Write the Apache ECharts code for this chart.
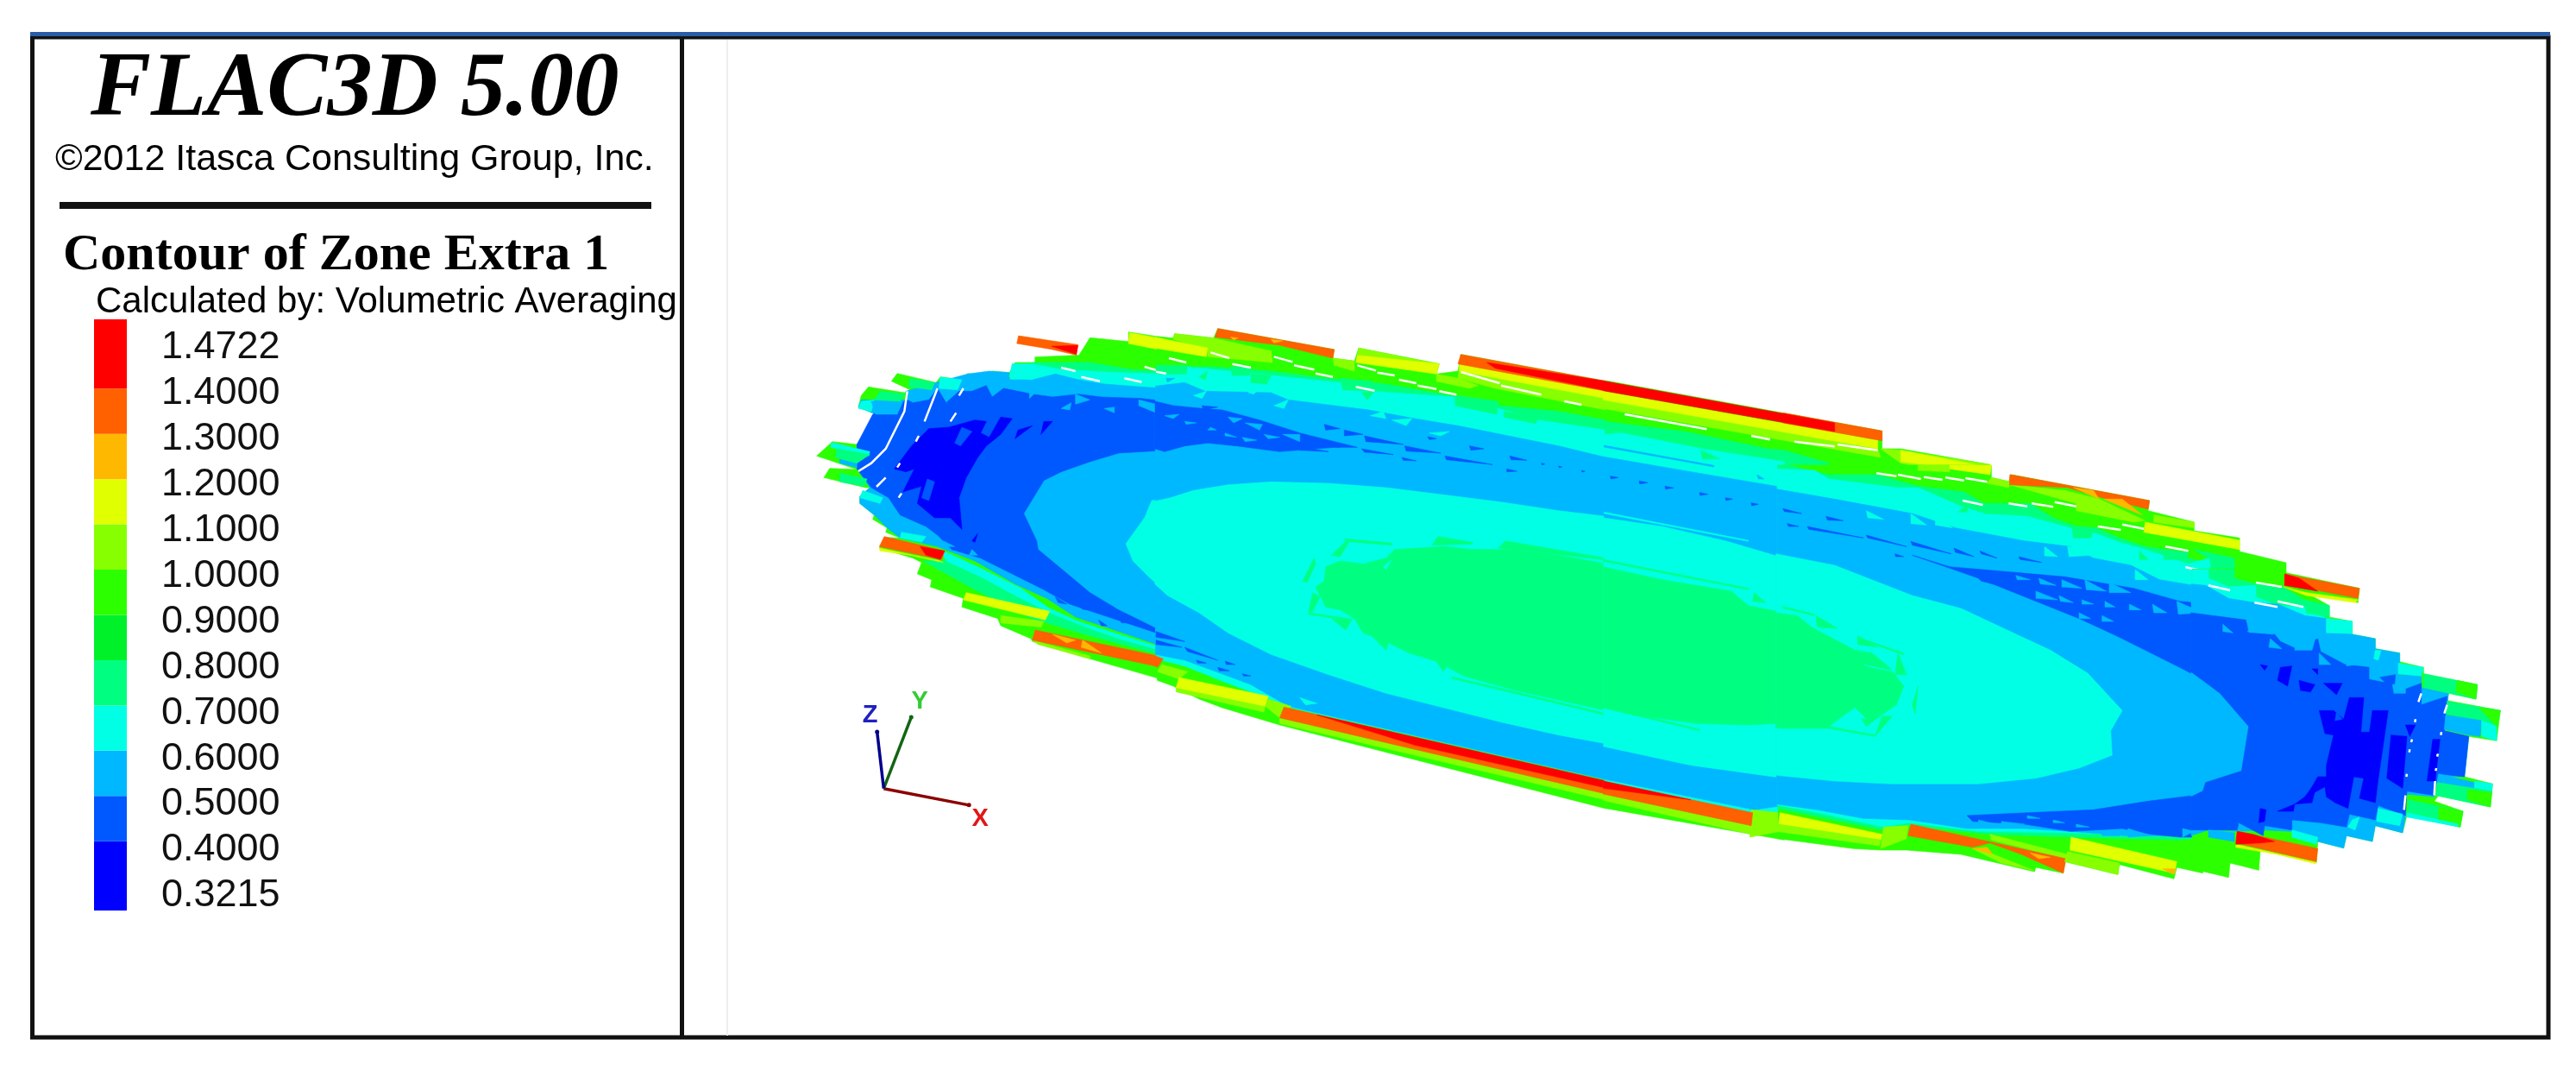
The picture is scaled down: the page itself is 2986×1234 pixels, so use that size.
<!DOCTYPE html>
<html><head><meta charset="utf-8">
<style>html,body{margin:0;padding:0;background:#fff}#c{width:2986px;height:1234px}</style>
<script src="https://cdn.jsdelivr.net/npm/echarts@6/dist/echarts.min.js"></script>
</head><body><div id="c"></div>
<script>
// ---- legend ----
const tickLabels = ['1.4722','1.4000','1.3000','1.2000','1.1000','1.0000','0.9000','0.8000','0.7000','0.6000','0.5000','0.4000','0.3215'];
const bandEdges = [0.3215,0.4,0.5,0.6,0.7,0.8,0.9,1.0,1.1,1.2,1.3,1.4,1.4722];
const legendSlots = [1.53,1,1,1,1,1,1,1,1,1,1,1.53];
// ---- contour, upper-left rim ----
const rimOutline = [[470,165],[550,160],[570,115],[640,125],[640,100],[720,118],[725,105],[730,200],[470,200]];
const rimStrips = [
 [1.35,[[440,110],[548,133],[545,160],[500,145],[437,130]]],
 [1.45,[[500,137],[548,135],[545,158]]],
 [1.15,[[642,102],[710,120],[710,150],[640,130]]]
];
// ---- contour, left end ----
const endLOutline = [[740,0],[1262,0],[1262,1105],[1000,1030],[800,970],[795,960],[690,915],[680,890],[555,850],[560,820],[445,780],[450,755],[400,735],[415,695],[385,680],[268,645],[290,608],[340,610],[290,590],[295,575],[245,545],[250,530],[200,490],[200,465],[235,435],[220,435],[75,400],[95,368],[190,372],[50,325],[105,275],[190,285],[255,180],[195,155],[205,115],[230,85],[355,105],[375,95],[310,65],[330,38],[465,70],[480,50],[555,60],[575,38],[640,50],[660,30],[720,35]];
const endL075a = [[800,0],[1000,0],[1150,25],[1262,30],[1262,60],[900,30],[800,30]];
const endL075b = [[420,690],[500,690],[620,745],[740,810],[860,870],[1000,925],[1100,960],[1262,1005],[1262,1020],[1000,950],[800,890],[600,790]];
const endL065a = [[730,5],[800,5],[900,25],[1100,35],[1262,40],[1262,150],[720,100]];
const endL065b = [[480,650],[620,715],[760,785],[860,855],[960,900],[1100,945],[1262,995],[1262,1005],[1100,960],[1000,925],[860,870],[740,810],[620,745],[500,690]];
const endL055 = [[360,100],[465,70],[575,40],[650,30],[720,35],[720,60],[800,60],[880,40],[960,60],[1050,75],[1120,80],[1180,85],[1262,90],[1262,990],[1100,935],[950,885],[850,820],[740,770],[600,690],[470,640],[340,610],[295,575],[250,530],[200,490],[200,465],[235,435],[190,370],[190,285],[255,180],[195,155],[205,130],[360,130]];
const endL045 = [[190,370],[190,285],[245,180],[330,145],[365,130],[385,140],[440,130],[470,90],[500,140],[545,100],[590,100],[640,80],[660,120],[700,90],[750,100],[800,110],[870,120],[960,110],[1040,120],[1180,125],[1262,135],[1262,305],[1100,315],[1000,345],[900,380],[840,410],[770,525],[815,620],[820,650],[880,700],[1000,800],[1100,860],[1262,940],[1262,950],[1050,880],[930,840],[840,790],[700,720],[620,680],[520,650],[470,600],[430,570],[340,530],[300,470],[240,435]];
const endLInner065 = [[1262,475],[1215,480],[1190,540],[1125,630],[1150,690],[1210,750],[1262,795]];
const endL035 = [[[510,225],[600,200],[640,205],[620,245],[650,260],[690,190],[730,195],[690,250],[640,290],[610,330],[570,400],[545,470],[555,580],[515,540],[460,540],[400,490],[415,430],[350,450],[390,370],[360,380],[320,370],[380,290],[440,230]],[[750,235],[800,220],[740,265]],[[840,205],[870,205],[830,250]],[[590,620],[610,595],[600,625]]];
const endL045b = [[[530,280],[555,225],[590,240],[550,290]],[[415,470],[435,405],[460,415],[440,480]]];
const endLBlocks = [
 [0.65,[[480,50],[555,60],[540,95],[475,90]]],
 [0.65,[[205,135],[250,130],[240,170],[195,160]]],
 [0.55,[[240,135],[350,135],[330,180],[255,180]]],
 [0.65,[[100,278],[235,310],[230,325],[100,295]]],
 [0.55,[[130,335],[190,350],[190,365],[130,350]]],
 [0.65,[[210,445],[280,470],[270,490],[200,470]]],
 [0.65,[[345,590],[430,605],[415,625],[340,610]]],
 [0.65,[[730,5],[800,5],[800,60],[720,50]]],
 [0.75,[[375,55],[460,70],[450,95],[370,85]]],
 [0.75,[[270,100],[355,110],[340,135],[250,130]]],
 [0.75,[[120,300],[235,320],[190,350],[115,330]]],
 [0.75,[[130,385],[225,405],[215,430],[130,415]]],
 [0.55,[[790,100],[820,95],[790,125]]],[0.55,[[900,160],[935,140],[930,165]]],[0.55,[[950,110],[1000,130],[950,145]]],
 [0.55,[[1050,160],[1085,155],[1085,175]]],[0.55,[[590,650],[610,670],[580,670]]],[0.55,[[490,620],[530,640],[500,640]]],
 [0.55,[[1170,130],[1230,145],[1230,175],[1170,150]]],
 [0.45,[[880,815],[920,840],[890,835]]],[0.45,[[1030,895],[1060,915],[1040,915]]],[0.45,[[1100,885],[1140,905],[1110,905]]],[0.45,[[960,845],[1000,860],[975,858]]]
];
const endLStrips = [
 [1.15,[[268,645],[480,690],[490,695],[375,670],[270,655]]],
 [1.35,[[285,605],[495,655],[485,685],[268,640]]],
 [1.45,[[410,640],[495,655],[480,685],[430,670]]],
 [1.05,[[690,880],[840,900],[830,920],[690,905]]],
 [1.15,[[570,800],[860,865],[845,895],[560,825]]],
 [1.05,[[800,965],[1000,1020],[1000,1030],[820,980]]],
 [1.35,[[810,930],[1260,1025],[1250,1060],[800,965]]],
 [1.25,[[870,945],[950,965],[920,975]]],
 [1.25,[[975,965],[1040,1010],[970,990]]]
];
const endLSlits = [[[365,100],[355,170],[290,300],[240,350],[195,378]],[[470,90],[425,205]],[[405,255],[395,275]],[[340,350],[330,365]],[[290,400],[258,432]],[[560,90],[545,115]],[[535,175],[515,205]],[[345,455],[335,470]],[[900,18],[950,30]],[[970,50],[1035,65]],[[1120,55],[1180,68]],[[1190,15],[1260,35]]];
// ---- contour, centre-left ----
const midAOutline = [[4,60],[60,65],[65,50],[200,65],[215,32],[620,105],[615,135],[690,145],[705,100],[985,155],[975,190],[1050,180],[1060,122],[1565,215],[1565,1701],[430,1410],[230,1350],[150,1320],[60,1275],[4,1255]];
const midA075 = [[2,165],[200,165],[400,180],[600,205],[800,225],[1000,260],[1200,300],[1400,320],[1565,350],[1565,1600],[470,1350],[400,1320],[250,1265],[100,1205],[2,1180]];
const midA065 = [[0,185],[110,165],[400,195],[640,220],[750,250],[1040,270],[1190,310],[1330,350],[1565,385],[1565,1600],[470,1350],[330,1295],[250,1265],[100,1205],[0,1180]];
const midA055 = [[-2,232],[100,220],[170,250],[400,255],[460,280],[740,315],[900,345],[1050,370],[1200,400],[1400,440],[1565,480],[1565,1600],[460,1345],[330,1270],[250,1240],[100,1185],[-2,1165]];
const midA045 = [[-3,285],[60,300],[160,310],[230,315],[360,350],[500,395],[640,430],[700,445],[620,445],[430,460],[280,440],[180,430],[100,440],[30,460],[-3,450]];
const midAInner065 = [[-4,632],[50,620],[130,595],[250,575],[400,565],[600,570],[800,585],[1000,610],[1200,635],[1400,665],[1565,685],[1565,1475],[1400,1445],[1200,1400],[1000,1350],[800,1300],[600,1235],[400,1165],[250,1090],[150,1020],[40,960],[-4,920]];
const midACentre075 = [[1565,850],[1400,820],[1240,800],[1100,800],[1000,790],[830,800],[800,830],[720,850],[640,840],[590,860],[585,910],[555,930],[570,960],[590,1000],[640,1010],[690,1040],[720,1090],[800,1120],[880,1160],[980,1190],[1070,1240],[1250,1290],[1565,1360]];
const midAChips = [
 [0.75,[[0,160],[110,160],[105,190],[0,190]]],[0.75,[[260,165],[330,165],[325,195],[265,195]]],[0.75,[[330,190],[400,195],[385,225],[330,220]]],
 [0.75,[[640,205],[750,215],[760,250],[650,245]]],[0.75,[[1040,265],[1190,285],[1185,330],[1040,300]]],[0.75,[[1210,320],[1330,340],[1320,362],[1210,340]]],
 [0.75,[[150,200],[180,180],[170,210]]],[0.75,[[715,255],[760,250],[735,280]]],[0.55,[[35,205],[65,205],[40,218]]],
 [0.65,[[410,300],[460,280],[445,310]]],[0.65,[[130,265],[175,250],[160,275]]],[0.65,[[320,255],[360,240],[340,260]]],
 [0.65,[[745,335],[790,320],[800,345]]],[0.65,[[820,350],[890,345],[870,370]]],[0.65,[[950,395],[1020,390],[990,405]]],
 [0.55,[[30,335],[80,330],[60,345]]],[0.55,[[100,355],[140,360],[105,365]]],[0.55,[[190,375],[210,385],[180,385]]],[0.55,[[240,395],[280,410],[240,405]]],
 [0.55,[[250,340],[300,345],[270,360]]],[0.55,[[310,360],[370,365],[360,385]]],[0.55,[[300,410],[350,420],[310,425]]],[0.55,[[375,400],[430,410],[390,415]]],[0.55,[[440,400],[500,400],[500,425]]],
 [0.45,[[585,365],[640,380],[590,385]]],[0.45,[[655,385],[720,400],[655,405]]],[0.45,[[725,405],[860,435],[730,425]]],[0.45,[[715,450],[825,470],[725,462]]],
 [0.45,[[865,440],[990,465],[870,458]]],[0.45,[[1005,475],[1170,505],[1010,488]]],[0.45,[[1090,440],[1140,450],[1095,455]]],[0.45,[[1230,475],[1290,490],[1235,488]]],
 [0.45,[[1220,520],[1255,528],[1220,530]]],[0.45,[[855,480],[905,492],[860,490]]],[0.45,[[160,300],[215,305],[165,315]]],[0.45,[[510,400],[640,445],[560,440]]],
 [0.45,[[490,440],[600,460],[500,455]]],[0.45,[[945,408],[975,415],[950,418]]],[0.45,[[1340,500],[1352,503],[1342,506]]],[0.45,[[1400,510],[1412,513],[1402,516]]],[0.45,[[1480,525],[1492,528],[1482,531]]],
 [0.45,[[0,1085],[100,1120],[0,1105]]],[0.45,[[0,1115],[90,1140],[0,1130]]],[0.45,[[100,1140],[215,1185],[110,1155]]],[0.45,[[140,1185],[175,1195],[145,1195]]],
 [0.45,[[240,1188],[275,1200],[245,1200]]],[0.45,[[215,1210],[255,1222],[220,1222]]],[0.45,[[300,1232],[330,1240],[305,1240]]],
 [0.65,[[500,1315],[560,1335],[520,1340]]],
 [0.75,[[510,910],[550,830],[555,850],[525,915]]],[0.75,[[545,950],[570,965],[545,1015],[530,1020]]],[0.75,[[610,1040],[680,1045],[660,1080]]],
 [0.75,[[750,1100],[810,1120],[800,1150]]],[0.75,[[975,1190],[1015,1195],[1000,1225]]],[0.75,[[655,763],[820,778],[820,785],[660,772]]],[0.75,[[660,772],[670,775],[640,825],[610,820]]],
 [0.75,[[980,755],[1100,775],[1100,781],[960,785]]],[0.75,[[1215,770],[1565,830],[1565,836],[1190,795]]],[0.75,[[530,1020],[680,1042],[680,1048],[530,1025]]],[0.75,[[1030,1243],[1565,1370],[1565,1376],[1030,1249]]],
 [0.65,[[790,860],[820,835],[800,870]]],[0.65,[[700,800],[730,850],[690,840]]]
];
const midAStrips = [
 [1.05,[[65,50],[200,65],[400,110],[400,150],[180,105],[60,70]]],
 [1.15,[[-3,62],[180,100],[175,130],[-3,100]]],
 [1.05,[[180,105],[400,110],[405,150],[180,130]]],
 [1.35,[[215,32],[620,105],[615,135],[430,90],[205,62]]],
 [1.25,[[260,62],[285,65],[270,72]]],[1.25,[[400,70],[440,75],[410,82]]],
 [1.05,[[615,135],[690,145],[690,180],[620,160]]],
 [1.05,[[705,100],[985,155],[975,170],[700,125]]],
 [1.15,[[700,125],[985,155],[975,190],[695,150]]],
 [1.05,[[975,190],[1050,205],[1120,230],[1090,240],[975,215]]],
 [1.05,[[1055,170],[1565,268],[1565,315],[1180,240],[1050,205]]],
 [1.15,[[1055,155],[1565,240],[1565,275],[1055,180]]],
 [1.35,[[1060,122],[1565,215],[1565,250],[1050,155]]],
 [1.45,[[1150,150],[1565,215],[1565,248],[1180,170]]],
 [1.35,[[-3,1170],[25,1180],[5,1210],[-3,1205]]],
 [1.05,[[20,1200],[110,1225],[80,1250],[5,1225]]],
 [1.05,[[70,1280],[380,1345],[375,1365],[70,1295]]],
 [1.15,[[80,1245],[390,1310],[380,1345],[70,1280]]],
 [1.05,[[390,1320],[470,1345],[430,1385],[380,1345]]],
 [1.05,[[430,1385],[1565,1650],[1565,1671],[430,1405]]],
 [1.35,[[445,1348],[1565,1605],[1565,1650],[430,1385]]],
 [1.45,[[560,1375],[1565,1605],[1565,1629],[900,1480]]]
];
const midASlits = [[[45,135],[105,150]],[[190,115],[255,135]],[[265,155],[330,168]],[[0,182],[35,188]],[[410,130],[475,148]],[[480,160],[550,175]],[[555,188],[615,200]],[[695,235],[760,248]],[[700,160],[765,178]],[[770,185],[830,195]],[[845,210],[905,222]],[[910,230],[975,242]],[[985,250],[1045,262]],[[1060,183],[1195,222]],[[1200,230],[1340,262]],[[1420,285],[1480,297]]];
// ---- contour, centre ----
const midBOutline = [[4,3],[965,178],[965,240],[1030,240],[1340,295],[1340,345],[1410,355],[1410,330],[1565,362],[1565,420],[625,420],[625,1600],[4,1490]];
const midB075 = [[2,145],[280,180],[570,240],[625,245],[780,290],[780,305],[625,305],[625,1530],[2,1395]];
const midB065 = [[0,190],[60,185],[340,240],[625,285],[625,1530],[0,1395]];
const midB055 = [[-2,268],[300,320],[625,375],[625,1480],[520,1495],[-2,1388]];
const midBInner065 = [[-4,480],[200,510],[420,560],[625,620],[625,1385],[300,1340],[-4,1275]];
const midBCentre075 = [[-5,650],[200,695],[440,735],[500,785],[625,810],[625,1210],[600,1195],[500,1200],[320,1195],[100,1165],[-5,1140]];
const midBChips = [
 [0.75,[[335,245],[400,275],[340,275]]],[0.55,[[530,330],[555,345],[535,345]]],
 [0.55,[[-2,228],[380,298],[380,303],[-2,234]]],
 [0.65,[[-2,460],[500,558],[500,562],[-2,465]]],
 [0.75,[[-5,625],[500,725],[500,730],[-5,631]]],[0.75,[[-5,1135],[330,1215],[330,1220],[-5,1140]]],
 [0.75,[[520,740],[560,775],[515,770]]],
 [0.45,[[620,450],[685,465],[630,458]]],[0.45,[[620,495],[672,510],[625,505]]],
 [0.45,[[20,335],[48,340],[22,345]]],[0.45,[[120,352],[150,358],[122,362]]],[0.45,[[210,370],[240,376],[212,380]]],[0.45,[[330,392],[360,398],[332,402]]],[0.45,[[420,410],[445,415],[422,420]]],[0.45,[[510,428],[535,433],[512,438]]]
];
const midBStrips = [
 [1.05,[[-5,70],[950,240],[960,270],[-5,100]]],
 [1.15,[[-5,40],[950,210],[950,240],[-5,70]]],
 [1.35,[[620,115],[965,178],[965,212],[620,150]]],
 [1.45,[[-5,4],[800,150],[800,180],[-5,38]]],
 [1.05,[[960,240],[1030,245],[1340,295],[1340,345],[1270,340],[1030,290]]],
 [1.15,[[1030,245],[1340,305],[1335,325],[1030,285]]],
 [1.05,[[1410,370],[1565,395],[1565,420],[1400,395]]],
 [1.35,[[1410,330],[1565,362],[1565,390],[1405,365]]],
 [1.05,[[510,1495],[610,1505],[610,1570],[505,1590]]],
 [1.15,[[610,1505],[625,1510],[625,1570],[610,1565]]],
 [1.05,[[-5,1440],[510,1550],[510,1580],[-5,1462]]],
 [1.35,[[-5,1395],[515,1505],[510,1550],[-5,1440]]],
 [1.45,[[-5,1395],[300,1460],[-5,1420]]]
];
const midBSlits = [[[70,120],[355,172]],[[510,195],[575,208]],[[660,215],[800,232]],[[810,225],[950,245]],[[945,322],[1020,335]]];
// ---- contour, centre-right ----
const midCOutline = [[4,-3],[745,-3],[745,40],[810,55],[815,30],[1295,120],[1290,155],[1450,195],[1450,225],[1608,250],[1608,297],[1770,336],[1770,375],[1502,375],[1502,1320],[1480,1415],[1390,1395],[1380,1435],[1190,1385],[1185,1420],[1000,1375],[995,1415],[900,1395],[895,1410],[640,1350],[450,1335],[360,1335],[265,1330],[4,1295]];
const midC075 = [[2,-3],[40,-3],[180,30],[350,30],[420,50],[490,70],[650,90],[720,130],[880,130],[960,180],[1040,210],[1110,215],[1190,250],[1280,280],[1345,290],[1430,320],[1502,340],[1502,1290],[1400,1300],[1020,1290],[740,1280],[450,1250],[365,1265],[2,1190]];
const midC065 = [[0,10],[130,15],[180,45],[420,75],[490,75],[640,140],[720,165],[870,175],[1020,215],[1110,235],[1190,265],[1280,290],[1430,340],[1502,370],[1502,1288],[1210,1280],[1020,1275],[700,1270],[460,1240],[370,1255],[300,1240],[140,1205],[0,1178]];
const midC055 = [[-2,80],[200,115],[470,165],[620,215],[860,260],[1020,280],[1100,320],[1230,345],[1330,395],[1480,420],[1502,425],[1502,1285],[1400,1285],[1210,1285],[1020,1270],[860,1260],[660,1260],[460,1230],[300,1225],[140,1195],[-2,1175]];
const midC045a = [[470,310],[600,350],[830,370],[1000,385],[1240,425],[1400,470],[1502,480],[1502,755],[1420,710],[1280,640],[1180,590],[1050,530],[900,470],[700,390],[600,355]];
const midC045b = [[1502,1120],[1470,1130],[1450,1145],[1290,1165],[1100,1195],[870,1205],[660,1215],[680,1235],[860,1245],[1020,1270],[1200,1260],[1300,1280],[1400,1290],[1502,1290]];
const midCInner065 = [[-4,305],[200,345],[470,450],[640,495],[800,570],[950,640],[1080,720],[1200,850],[1160,920],[1165,1005],[1050,1050],[900,1085],[700,1105],[400,1105],[200,1095],[-4,1075]];
const midCCentre075 = [[-5,510],[70,520],[120,560],[270,640],[330,650],[390,700],[440,765],[415,830],[370,860],[310,905],[270,840],[240,860],[180,905],[120,910],[-5,910]];
const midCChips = [
 [0.75,[[1450,290],[1590,320],[1590,375],[1500,375],[1500,320]]],
 [0.65,[[1430,340],[1502,320],[1510,375],[1430,375]]],
 [0.55,[[830,380],[880,395],[835,395]]],[0.55,[[910,390],[970,415],[915,410]]],[0.55,[[990,395],[1060,425],[990,420]]],[0.55,[[1070,395],[1145,435],[1075,430]]],[0.55,[[1155,405],[1230,440],[1155,440]]],
 [0.55,[[900,435],[975,465],[900,460]]],[0.55,[[980,450],[1030,475],[985,470]]],[0.55,[[1060,465],[1100,480],[1060,480]]],[0.55,[[1140,470],[1175,490],[1140,490]]],[0.55,[[1225,480],[1265,500],[1225,500]]],
 [0.55,[[1305,480],[1355,510],[1310,510]]],[0.55,[[1390,470],[1480,510],[1395,515]]],[0.55,[[1050,510],[1090,530],[1050,530]]],[0.55,[[1130,520],[1170,540],[1130,540]]],
 [0.55,[[700,1230],[760,1245],[700,1245]]],[0.55,[[780,1235],[860,1245],[780,1250]]],[0.55,[[870,1215],[915,1225],[870,1225]]],[0.55,[[960,1230],[1000,1240],[960,1240]]],[0.55,[[1040,1245],[1085,1255],[1040,1255]]],
 [0.55,[[1220,1260],[1300,1285],[1220,1290]]],[0.55,[[1130,1270],[1190,1285],[1130,1285]]],[0.55,[[1410,1260],[1450,1270],[1410,1290]]],
 [0.45,[[20,148],[85,165],[25,158]]],[0.45,[[170,175],[230,190],[175,188]]],[0.45,[[35,200],[75,210],[40,210]]],[0.45,[[105,210],[300,250],[110,220]]],[0.45,[[310,240],[450,280],[315,250]]],
 [0.45,[[465,262],[605,305],[470,275]]],[0.45,[[615,285],[685,315],[620,300]]],[0.45,[[705,295],[765,320],[710,305]]],[0.45,[[840,315],[920,335],[845,325]]],[0.45,[[700,390],[810,425],[710,400]]],[0.45,[[410,305],[440,315],[412,315]]],
 [0.65,[[310,155],[370,185],[315,180]]],[0.65,[[465,165],[520,205],[465,200]]],[0.65,[[550,172],[610,215],[550,205]]],[0.65,[[930,280],[975,315],[930,312]]],[0.65,[[1010,280],[1050,285],[1095,310],[1015,315]]],[0.65,[[1245,360],[1290,395],[1245,395]]],[0.65,[[1390,365],[1420,385],[1390,385]]],
 [0.75,[[1025,210],[1105,215],[1090,250],[1030,250]]],[0.75,[[1345,290],[1430,300],[1425,325],[1345,325]]],[0.75,[[630,160],[665,130],[660,160]]],[0.75,[[720,130],[880,135],[880,170],[720,165]]],[0.75,[[1260,295],[1290,325],[1260,325]]],
 [0.75,[[135,520],[210,565],[140,560]]],[0.75,[[280,590],[350,630],[280,620]]],[0.75,[[420,650],[450,725],[410,725]]],[0.75,[[490,765],[470,830],[480,860]]],[0.75,[[400,870],[340,940],[365,870]]],
 [0.75,[[20,488],[130,515],[130,520],[20,494]]],[0.75,[[280,595],[440,650],[440,656],[280,600]]],[0.75,[[10,905],[180,905],[340,935],[340,940],[180,912],[10,912]]],
 [0.65,[[300,690],[390,710],[405,715],[330,700]]],[0.65,[[270,840],[310,880],[270,870]]]
];
const midCStrips = [
 [1.05,[[490,-3],[600,-3],[600,20],[490,15]]],
 [1.15,[[600,-3],[745,-3],[740,30],[600,10]]],
 [1.05,[[745,40],[810,55],[805,75],[730,60]]],
 [1.05,[[808,65],[1000,85],[1120,115],[1280,190],[1240,195],[1040,155],[1040,130]]],
 [1.35,[[812,30],[1295,120],[1290,150],[1130,110],[1010,75],[808,65]]],
 [1.25,[[1030,75],[1100,85],[1120,115]]],[1.25,[[1135,115],[1200,115],[1270,170]]],
 [1.05,[[1310,170],[1450,195],[1450,215],[1310,195]]],
 [1.15,[[1280,195],[1608,258],[1608,290],[1275,230]]],
 [1.15,[[10,1205],[365,1280],[360,1300],[5,1245]]],
 [1.05,[[5,1245],[360,1300],[355,1320],[-3,1270]]],
 [1.05,[[370,1255],[455,1250],[450,1295],[360,1330]]],
 [1.05,[[740,1280],[1010,1350],[1005,1365],[745,1300]]],
 [1.05,[[680,1330],[740,1345],[890,1405],[780,1380]]],
 [1.35,[[465,1245],[1005,1365],[995,1415],[850,1350],[740,1310],[680,1325],[455,1285]]],
 [1.25,[[680,1330],[730,1325],[750,1350]]],[1.25,[[880,1345],[950,1360],[910,1365]]],
 [1.05,[[1010,1340],[1190,1380],[1185,1420],[1000,1375]]],
 [1.15,[[1022,1290],[1390,1375],[1382,1415],[1018,1335]]],
 [1.25,[[1340,1400],[1385,1400],[1380,1420]]]
];
const midCSlits = [[[345,25],[415,35]],[[420,30],[500,45]],[[510,38],[575,48]],[[585,40],[650,50]],[[655,42],[730,55]],[[645,120],[715,135]],[[805,130],[870,140]],[[885,130],[960,142]],[[965,125],[1040,140]],[[1115,210],[1195,222]],[[1200,203],[1275,218]],[[1350,280],[1430,295]],[[1420,352],[1500,368]]];
// ---- contour, right end ----
const endROutline = [[3,-2],[325,-2],[325,10],[585,65],[580,115],[400,80],[480,125],[480,165],[560,180],[560,225],[640,240],[640,275],[725,290],[725,320],[808,340],[808,362],[995,400],[990,450],[895,430],[890,455],[1075,490],[1062,595],[965,580],[950,720],[1048,745],[1040,825],[860,785],[845,805],[945,840],[935,895],[750,855],[735,915],[640,890],[630,945],[540,925],[530,968],[440,945],[435,1020],[240,975],[235,1045],[135,1020],[130,1070],[3,1040]];
const endR075 = [[60,0],[150,0],[150,30],[225,50],[320,60],[400,110],[480,125],[480,165],[400,160],[300,120],[2,60],[2,0]];
const endR065 = [[1,0],[60,0],[60,30],[130,60],[225,55],[225,95],[300,125],[395,130],[470,170],[560,180],[560,225],[480,220],[300,190],[1,120]];
const endR055 = [[0,50],[50,55],[130,100],[220,115],[300,120],[395,160],[470,170],[470,220],[560,225],[640,240],[640,275],[725,290],[725,320],[720,365],[800,365],[800,410],[895,430],[880,560],[965,580],[950,720],[850,720],[845,790],[745,780],[745,860],[735,915],[640,890],[630,945],[540,925],[530,968],[440,945],[440,930],[350,910],[250,905],[160,910],[60,905],[0,925]];
const endR045 = [[-1,150],[190,175],[200,220],[290,225],[310,250],[365,275],[440,240],[450,285],[535,330],[620,340],[625,380],[710,365],[705,430],[800,395],[800,470],[890,440],[880,560],[965,580],[950,720],[860,710],[845,785],[750,770],[745,855],[650,820],[640,870],[550,850],[540,895],[450,880],[350,870],[350,905],[255,890],[250,925],[165,880],[160,905],[60,905],[-1,905],[-1,790],[40,770],[50,740],[175,700],[200,545],[100,430],[60,400],[-1,355]];
const endR035 = [[[455,490],[495,490],[530,520],[550,445],[600,445],[590,565],[620,565],[630,490],[685,490],[650,730],[640,810],[585,795],[600,725],[565,720],[545,830],[500,810],[470,790],[465,755],[400,790],[440,720],[470,720],[470,680],[495,575],[465,570],[445,490]],[[695,575],[750,580],[735,760],[680,725]],[[745,540],[780,540],[760,580]],[[840,590],[865,590],[848,735],[820,735]],[[300,840],[360,815],[355,840]],[[240,830],[260,835],[255,875],[235,880]],[[360,815],[420,810],[440,730],[395,790]],[[310,340],[350,335],[335,405],[300,385]],[[375,385],[430,400],[415,425],[380,420]],[[460,395],[525,395],[505,435]],[[240,330],[265,335],[255,350]],[[420,345],[440,345],[440,365]]];
const endRBlocks = [
 [0.45,[[505,495],[525,520],[500,525]]],
 [0.55,[[110,190],[145,220],[110,215]]],[0.55,[[195,215],[235,185],[285,225]]],[0.55,[[275,240],[315,275],[270,270]]],
 [0.55,[[365,240],[430,245],[420,280],[360,280]]],[0.55,[[445,290],[485,330],[445,330]]],[0.55,[[540,290],[600,300],[630,320],[540,335]]],
 [0.55,[[620,340],[670,390],[620,380]]],[0.55,[[700,400],[745,395],[745,430],[705,430]]],
 [0.65,[[470,170],[560,180],[555,220],[470,220]]],
 [0.65,[[720,325],[808,340],[800,370],[720,362]]],
 [0.65,[[640,280],[660,282],[650,315],[635,310]]],
 [0.65,[[650,830],[735,850],[725,890],[645,875]]],
 [0.65,[[350,905],[440,930],[435,955],[350,930]]],
 [0.65,[[560,870],[585,860],[570,905],[545,895]]],
 [0.75,[[395,105],[480,125],[480,165],[400,150]]],
 [0.75,[[808,362],[995,400],[990,450],[808,410]]],
 [0.95,[[925,385],[995,400],[990,450],[920,425]]],
 [0.75,[[890,458],[1075,490],[1062,545],[885,500]]],
 [0.95,[[1000,480],[1075,490],[1062,545]]],
 [0.55,[[885,505],[1010,525],[1005,580],[965,575],[880,555]]],
 [0.65,[[1010,525],[1062,545],[1062,595],[1010,580]]],
 [0.55,[[860,710],[985,740],[985,760],[855,740]]],
 [0.65,[[985,735],[1048,745],[1045,770],[985,760]]],
 [0.75,[[855,740],[1045,770],[1040,825],[850,785]]],
 [0.95,[[960,765],[1045,775],[1040,825],[960,800]]],
 [0.75,[[755,800],[945,840],[935,895],[750,855]]],
 [0.95,[[860,825],[945,840],[935,895],[860,870]]],
 [0.65,[[750,845],[930,885],[925,893],[750,860]]],
 [0.55,[[60,905],[150,915],[150,945],[60,930]]]
];
const endRStrips = [
 [1.15,[[155,955],[435,1017],[432,1022],[300,990],[155,965]]],
 [1.35,[[160,910],[440,970],[435,1015],[155,950]]],
 [1.45,[[160,910],[215,920],[290,945],[240,950],[155,955]]],
 [1.15,[[320,60],[400,80],[580,105],[570,115],[400,90]]],
 [1.35,[[325,15],[585,65],[580,100],[425,70],[325,55]]],
 [1.45,[[325,15],[375,30],[440,75],[325,55]]]
];
const endRSlits = [[[60,55],[135,72]],[[225,45],[315,60]],[[220,115],[300,130]],[[300,110],[390,130]],[[890,470],[880,500]],[[870,565],[868,575]],[[858,640],[855,650]],[[852,690],[850,700]],[[848,735],[845,785]],[[800,430],[790,460]],[[780,520],[778,530]],[[768,590],[765,600]],[[760,625],[758,635]],[[750,710],[748,720]],[[745,785],[740,835]]];
// ---- coordinate triad, in rim-panel units ----
const triadOrigin = [195,1285];
const triadX = [350,1328];
const triadY = [245,1100];
const triadZ = [183,1138];

const bandColors = ['#0000ff','#0058ff','#00b8ff','#00ffe4','#00ff80','#00f02a','#2cff00','#88ff00','#e0ff00','#ffb800','#ff6000','#ff0000'];
function colorOf(v){ for(let i=0;i<bandColors.length;i++){ if(v<bandEdges[i+1]) return bandColors[i]; } return bandColors[bandColors.length-1]; }
const tag = (v,list)=>list.map(p=>[v,p]);
const rimRegions = [[0.95,rimOutline],...rimStrips];
const endLRegions = [[0.95,endLOutline],[0.75,endL075a],[0.65,endL065a],[0.75,endL075b],[0.65,endL065b],[0.55,endL055],[0.45,endL045],[0.65,endLInner065],
  ...tag(0.35,endL035),...tag(0.45,endL045b),...endLBlocks,...endLStrips,...tag(null,endLSlits)];
const midARegions = [[0.95,midAOutline],[0.75,midA075],[0.65,midA065],[0.55,midA055],[0.45,midA045],[0.65,midAInner065],[0.75,midACentre075],...midAChips,...midAStrips,...tag(null,midASlits)];
const midBRegions = [[0.95,midBOutline],[0.75,midB075],[0.65,midB065],[0.55,midB055],[0.65,midBInner065],[0.75,midBCentre075],...midBChips,...midBStrips,...tag(null,midBSlits)];
const midCRegions = [[0.95,midCOutline],[0.75,midC075],[0.65,midC065],[0.55,midC055],[0.45,midC045a],[0.45,midC045b],[0.65,midCInner065],[0.75,midCCentre075],...midCChips,...midCStrips,...tag(null,midCSlits)];
const endRRegions = [[0.95,endROutline],[0.75,endR075],[0.65,endR065],[0.55,endR055],[0.45,endR045],...tag(0.35,endR035),...endRBlocks,...endRStrips,...tag(null,endRSlits)];

function regionSeries(regions,axis){
  return {type:'custom',coordinateSystem:'cartesian2d',xAxisIndex:axis,yAxisIndex:axis,silent:true,clip:false,animation:false,
    data:regions.map((r,i)=>[i,0]),encode:{x:0,y:1},
    renderItem(params,api){
      const r=regions[api.value(0)];
      const pts=r[1].map(p=>api.coord(p));
      if(r[0]===null) return {type:'polyline',shape:{points:pts},style:{stroke:'#fff',lineWidth:2.5,fill:null}};
      const c=colorOf(r[0]);
      return {type:'polygon',shape:{points:pts},style:{fill:c,stroke:c,lineWidth:0.6}};
    }};
}
function triadSeries(tip,color,lab,labColor,off){
  return {type:'line',xAxisIndex:0,yAxisIndex:0,silent:true,animation:false,clip:false,z:5,
    data:[{value:triadOrigin,symbol:'none'},{value:tip,symbol:'circle',symbolSize:5,
      label:{show:true,position:'inside',offset:off,formatter:lab,color:labColor,fontFamily:'Liberation Sans',fontSize:29,fontWeight:'bold'}}],
    lineStyle:{color,width:3.5},itemStyle:{color}};
}
const chart=echarts.init(document.getElementById('c'),null,{width:2986,height:1234,renderer:'canvas'});
const hiddenVal=(max,extra)=>Object.assign({type:'value',show:false,min:0,max},extra);
const text=(str,x,y,font)=>({type:'text',x,y,silent:true,style:{text:str,font,fill:'#000',align:'left',verticalAlign:'middle'}});
const panels=[[900,340,1000,700,1568],[930,420,420,420,1260],[1340,370,520,520,1560],[1860,440,520,520,1560],[2060,540,500,500,1500],[2540,660,380,380,1140]];
chart.setOption({
  animation:false,backgroundColor:'#fff',
  grid:[
    ...panels.map(p=>({left:p[0],top:p[1],width:p[2],height:p[3]})),
    {left:109,top:370,width:38,height:685},
    {left:187,top:376.6,width:10,height:687.7}
  ],
  xAxis:[...panels.map((p,i)=>hiddenVal(p[4],{gridIndex:i})),
    {gridIndex:6,type:'category',show:false,data:['band']},
    {gridIndex:7,type:'value',show:false,min:0,max:1}],
  yAxis:[...panels.map((p,i)=>hiddenVal(p[4],{gridIndex:i,inverse:true})),
    {gridIndex:6,type:'value',show:false,min:0,max:legendSlots.reduce((a,b)=>a+b,0)},
    {gridIndex:7,type:'category',inverse:true,data:tickLabels,axisLine:{show:false},axisTick:{show:false},
      axisLabel:{inside:true,margin:0,align:'left',interval:0,fontFamily:'Liberation Sans',fontSize:45,color:'#111'}}],
  series:[
    regionSeries(rimRegions,0),
    regionSeries(endLRegions,1),
    regionSeries(midARegions,2),
    regionSeries(midBRegions,3),
    regionSeries(midCRegions,4),
    regionSeries(endRRegions,5),
    triadSeries(triadX,'#8b0000','X','#e01818',[13,16]),
    triadSeries(triadY,'#146414','Y','#33cc33',[10,-18]),
    triadSeries(triadZ,'#00008b','Z','#2020c0',[-8,-19]),
    ...legendSlots.map((s,i)=>({type:'bar',xAxisIndex:6,yAxisIndex:6,stack:'legend',barWidth:'100%',silent:true,animation:false,
      data:[s],itemStyle:{color:bandColors[i]}}))
  ],
  graphic:[
    {type:'rect',silent:true,shape:{x:37.5,y:43,width:2916.5,height:1159},style:{fill:'none',stroke:'#111',lineWidth:5}},
    {type:'line',silent:true,shape:{x1:35,y1:39.5,x2:2956,y2:39.5},style:{stroke:'#2a5ca8',lineWidth:5}},
    {type:'line',silent:true,shape:{x1:790.5,y1:43,x2:790.5,y2:1202},style:{stroke:'#111',lineWidth:5}},
    {type:'line',silent:true,shape:{x1:843,y1:46,x2:843,y2:1200},style:{stroke:'#eeeeee',lineWidth:2}},
    {type:'line',silent:true,shape:{x1:69,y1:238,x2:755,y2:238},style:{stroke:'#111',lineWidth:8}},
    text('FLAC3D 5.00',105,106,'italic bold 105px "Liberation Serif"'),
    text('©2012 Itasca Consulting Group, Inc.',64,185,'43px "Liberation Sans"'),
    text('Contour of Zone Extra 1',73,296,'bold 60px "Liberation Serif"'),
    text('Calculated by: Volumetric Averaging',111,350,'42px "Liberation Sans"')
  ]
});
</script></body></html>
